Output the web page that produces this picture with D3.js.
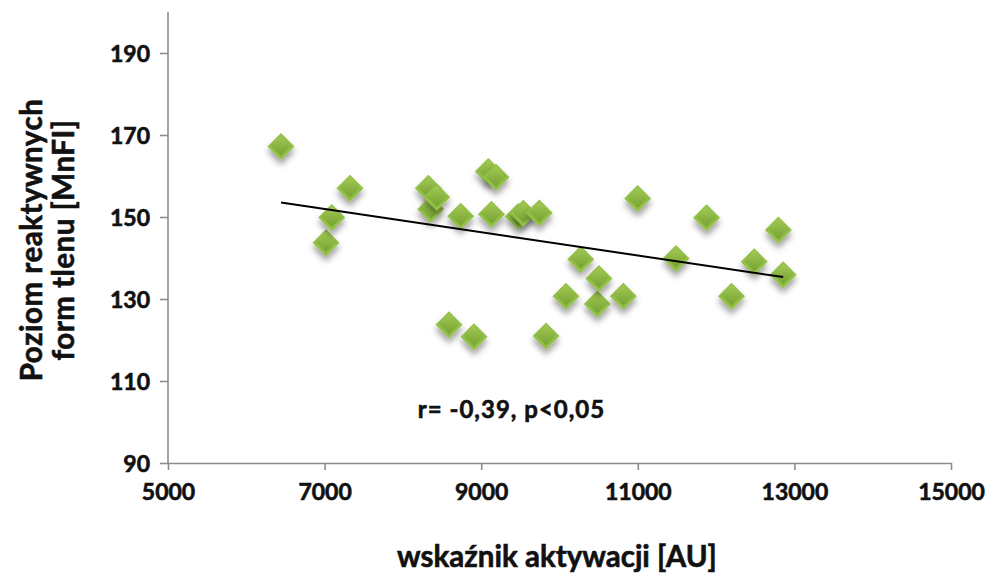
<!DOCTYPE html>
<html>
<head>
<meta charset="utf-8">
<script src="https://cdn.jsdelivr.net/npm/d3@7"></script>
<style>
  html, body { margin: 0; padding: 0; background: #fff; }
  svg { display: block; font-family: Lato, "Open Sans", sans-serif; font-weight: bold; }
  .lbl { fill: #111; stroke: #111; stroke-width: 0.6px; }
</style>
</head>
<body>
<svg id="chart" width="990" height="578"></svg>
<script>
// Activation index [AU] vs. reactive oxygen species level [MnFI]
const activation = [6443, 7018, 7091, 7324, 8325, 8355, 8432, 8589, 8738, 8908,
  9091, 9131, 9189, 9474, 9538, 9742, 9828, 10083, 10271, 10483,
  10504, 10815, 10998, 11488, 11878, 12197, 12487, 12795, 12857];
const rosLevel = [167.2, 143.7, 149.9, 157.0, 157.0, 151.9, 154.8, 123.7, 150.2, 120.8,
  161.1, 150.7, 159.7, 150.1, 150.9, 151.0, 121.0, 130.7, 139.7, 128.8,
  135.0, 130.7, 154.5, 139.9, 149.8, 130.7, 139.1, 146.8, 135.9];

const xTicks = [5000, 7000, 9000, 11000, 13000, 15000];
const yTicks = [90, 110, 130, 150, 170, 190];
const xTitle = "wskaźnik aktywacji [AU]";
const yTitleLines = ["Poziom reaktywnych", "form tlenu [MnFI]"];
const statsNote = "r= -0,39, p<0,05";

const svg = d3.select("#chart");
const plotL = 168, plotT = 12, plotR = 951, plotB = 463;

const x = d3.scaleLinear().domain([5000, 15000]).range([plotL, plotR]);
const y = d3.scaleLinear().domain([90, 200]).range([plotB, plotT]);

const defs = svg.append("defs");
const grad = defs.append("linearGradient").attr("id", "mk").attr("x1", 0).attr("y1", 0).attr("x2", 0).attr("y2", 1);
grad.append("stop").attr("offset", "0%").attr("stop-color", "#a2c955");
grad.append("stop").attr("offset", "100%").attr("stop-color", "#76a231");
const sh = defs.append("filter").attr("id", "shadow").attr("x", "-60%").attr("y", "-60%").attr("width", "220%").attr("height", "220%");
sh.append("feDropShadow").attr("dx", 0).attr("dy", 5).attr("stdDeviation", 3)
  .attr("flood-color", "#000").attr("flood-opacity", 0.38);

const axisColor = "#8c8c8c";

// Y axis
const gy = svg.append("g").attr("transform", `translate(${plotL},0)`)
  .call(d3.axisLeft(y).tickValues(yTicks).tickSize(8).tickPadding(10).tickSizeOuter(0));
gy.select(".domain").attr("d", `M0,${plotT}V${plotB}`);

// X axis
const gx = svg.append("g").attr("transform", `translate(0,${plotB})`)
  .call(d3.axisBottom(x).tickValues(xTicks).tickFormat(d3.format("d")).tickSize(7).tickPadding(14).tickSizeOuter(0));

svg.selectAll(".domain").attr("stroke", axisColor).attr("stroke-width", 1.6);
svg.selectAll(".tick line").attr("stroke", axisColor).attr("stroke-width", 1.6);
svg.selectAll(".tick text").attr("class", "lbl").style("font-size", "23px").style("font-weight", "bold")
  .style("font-family", "Lato, sans-serif");
gy.selectAll(".tick text").attr("dy", "0.36em");

// Markers
const pts = activation.map((v, i) => [v, rosLevel[i]]);
const R = 13.5;
const diamond = (r) => `M0,${-r}L${r},0L0,${r}L${-r},0Z`;
const mk = svg.append("g").selectAll("g").data(pts).join("g")
  .attr("transform", d => `translate(${x(d[0])},${y(d[1])})`)
  .attr("filter", "url(#shadow)");
mk.append("path").attr("d", diamond(R)).attr("fill", "#93c047");
mk.append("path").attr("d", diamond(R - 3)).attr("transform", "translate(0,-1)").attr("fill", "url(#mk)");

// Least-squares trend line over the data range
const mx = d3.mean(activation), my = d3.mean(rosLevel);
const slope = d3.sum(pts, d => (d[0] - mx) * (d[1] - my)) / d3.sum(activation, v => (v - mx) ** 2);
const icpt = my - slope * mx;
const [x0, x1] = d3.extent(activation);
svg.append("line")
  .attr("x1", x(x0)).attr("y1", y(icpt + slope * x0))
  .attr("x2", x(x1)).attr("y2", y(icpt + slope * x1))
  .attr("stroke", "#000").attr("stroke-width", 2);

// Annotation
svg.append("text").attr("class", "lbl").attr("x", x(8190)).attr("y", y(103)).attr("dy", "0.36em")
  .style("font-size", "24px").style("letter-spacing", "1px").text(statsNote);

// Axis titles
svg.append("text").attr("class", "lbl").attr("x", 557).attr("y", 567).attr("text-anchor", "middle")
  .style("font-size", "29.5px").text(xTitle);

const yt = svg.append("text").attr("class", "lbl").attr("transform", "translate(0,240) rotate(-90)")
  .attr("text-anchor", "middle").style("font-size", "29.5px").style("letter-spacing", "0.5px");
yt.selectAll("tspan").data(yTitleLines).join("tspan")
  .attr("x", 0).attr("y", (d, i) => 42 + i * 32).text(d => d);
</script>
</body>
</html>
